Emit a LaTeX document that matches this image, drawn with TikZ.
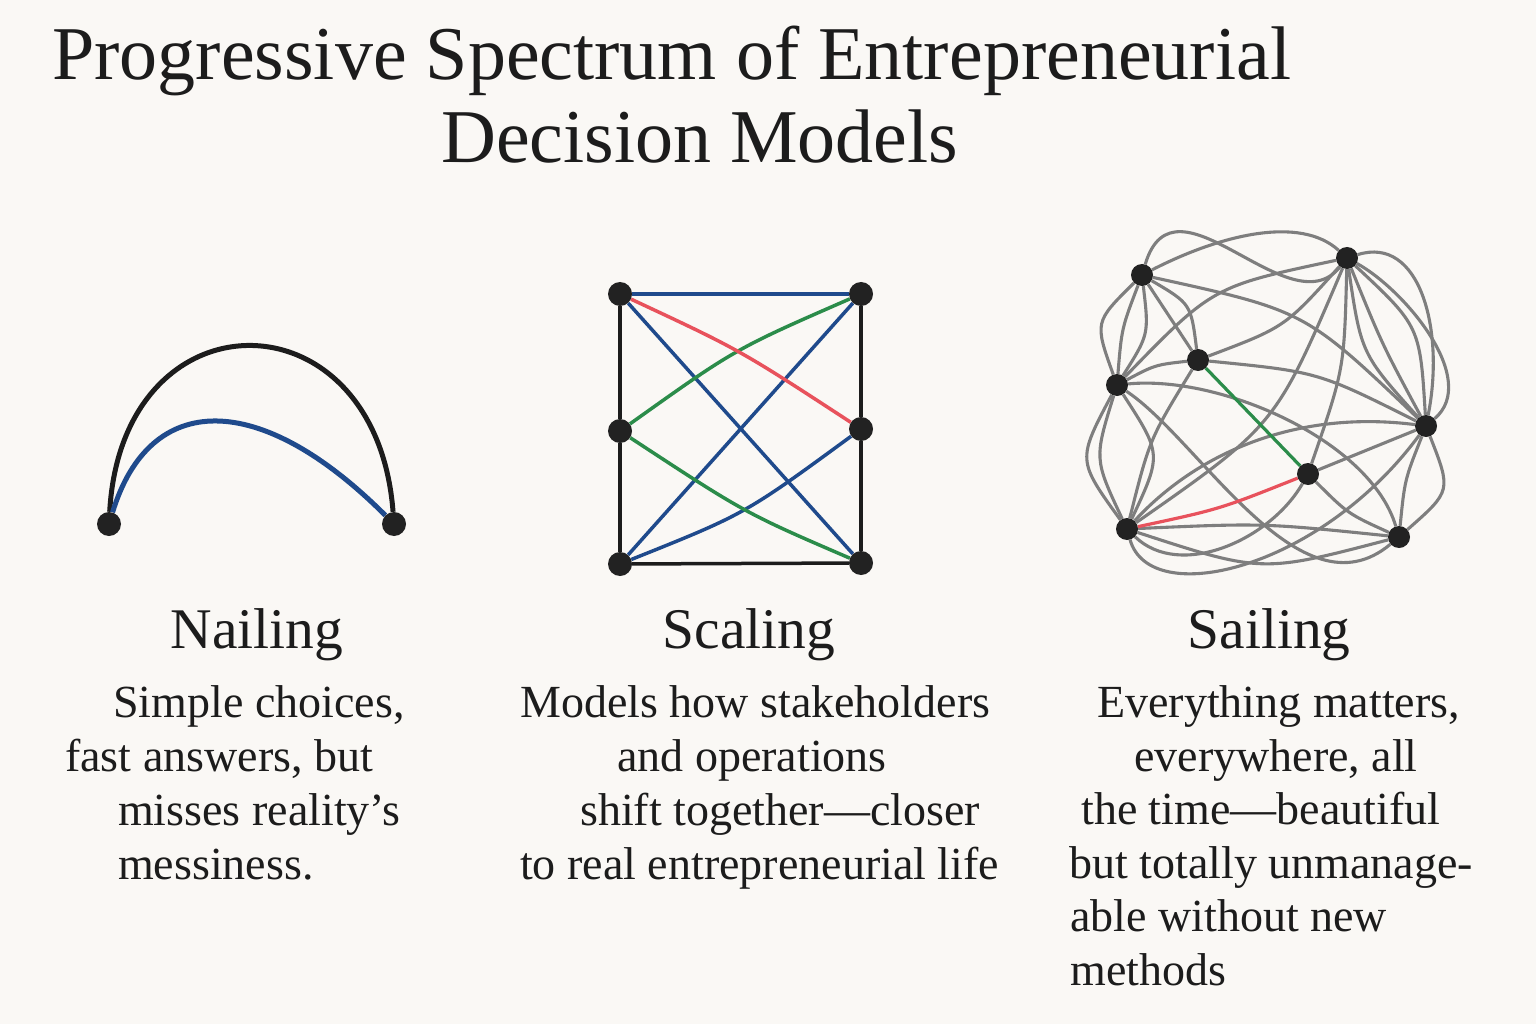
\documentclass[tikz,border=0pt]{standalone}
\usepackage{fontspec}
\setmainfont{Liberation Serif}
\usetikzlibrary{calc}
\definecolor{bgc}{HTML}{FAF8F5}
\definecolor{ink}{HTML}{1C1C1C}
\definecolor{dotc}{HTML}{222222}
\definecolor{navy}{HTML}{1F4A8C}
\definecolor{redl}{HTML}{E8525C}
\definecolor{grn}{HTML}{2B8C4A}
\definecolor{edgegray}{HTML}{7E7E7E}
\pgfdeclarelayer{back}
\pgfdeclarelayer{edges}
\pgfsetlayers{back,edges,main}
\newcommand\sedge[4][ged]{\draw[#1] (#2) .. controls ($(#2)!.5!(#3)!#4!90:(#3)$) .. (#3);}
\begin{document}
\begin{tikzpicture}[x=1pt,y=-1pt,
  dot/.style={circle,fill=dotc,draw=none,minimum size=24pt,inner sep=0pt},
  sdot/.style={circle,fill=dotc,draw=none,minimum size=22pt,inner sep=0pt},
  txt/.style={anchor=base west,inner sep=0pt,font=\fontsize{46}{53}\selectfont,text=ink},
  head/.style={anchor=base,inner sep=0pt,font=\fontsize{57.5}{60}\selectfont,text=ink},
  ttl/.style={anchor=base west,inner sep=0pt,font=\fontsize{76}{84}\selectfont,text=ink},
  sq/.style={line width=3.5pt},
  arc/.style={line width=5pt},
  ged/.style={draw=edgegray,line width=3.1pt}]
\begin{pgfonlayer}{back}
\fill[bgc] (0,0) rectangle (1536,1024);
\end{pgfonlayer}
\useasboundingbox (0,0) rectangle (1536,1024);

% title
\node[ttl] (t1) at (52,80) {Progressive Spectrum of Entrepreneurial};
\node[ttl] (t2) at (441,163) {Decision Models};

% ---------- Nailing ----------
\node[dot] (nL) at (109,524) {};
\node[dot] (nR) at (394,524) {};
\begin{pgfonlayer}{edges}
\draw[arc,ink] (nL) .. controls (122,290) and (376,290) .. (nR);
\draw[arc,navy] (nL) .. controls (150,390) and (260,390) .. (nR);
\end{pgfonlayer}

% ---------- Scaling ----------
\node[dot] (TL) at (620,294) {};
\node[dot] (TR) at (861,294) {};
\node[dot] (ML) at (620,431) {};
\node[dot] (MR) at (861,429) {};
\node[dot] (BL) at (620,564) {};
\node[dot] (BR) at (861,563) {};
\begin{pgfonlayer}{edges}
\draw[sq,ink] (TL) -- (ML);
\draw[sq,ink] (ML) -- (BL);
\draw[sq,ink] (BL) -- (BR);
\draw[sq,ink] (BR) -- (MR);
\draw[sq,ink] (MR) -- (TR);
\draw[sq,navy] (TL) -- (TR);
\draw[sq,navy] (TL) -- (BR);
\draw[sq,navy] (BL) -- (TR);
\draw[sq,navy] (BL) .. controls (745,514) .. (MR);
\draw[sq,grn] (ML) .. controls (745,513) .. (BR);
\draw[sq,grn] (ML) .. controls (735,349) .. (TR);
\draw[sq,redl] (TL) .. controls (740,350) .. (MR);
\end{pgfonlayer}

% ---------- Sailing ----------
\node[sdot] (sA) at (1142,275) {};
\node[sdot] (sB) at (1347,258) {};
\node[sdot] (sC) at (1198,360) {};
\node[sdot] (sD) at (1117,385) {};
\node[sdot] (sE) at (1426,426) {};
\node[sdot] (sF) at (1308,474) {};
\node[sdot] (sG) at (1127,529) {};
\node[sdot] (sH) at (1399,537) {};
\begin{pgfonlayer}{edges}
\draw[ged] (sA) .. controls (1175,165) and (1290,330) .. (sB);
\draw[ged] (sA) .. controls (1220,235) and (1300,215) .. (sB);
\draw[ged] (sA) -- (sC);
\sedge{sA}{sC}{25pt}
\sedge{sA}{sD}{-36pt}
\sedge{sA}{sD}{-8pt}
\sedge{sA}{sD}{20pt}
\sedge{sA}{sE}{45pt}
\sedge{sB}{sD}{-40pt}
\sedge{sC}{sB}{-22pt}
\sedge{sG}{sB}{-50pt}
\sedge{sB}{sF}{17pt}
\sedge{sB}{sE}{-28pt}
\sedge{sB}{sE}{-5pt}
\sedge{sB}{sE}{37pt}
\draw[ged] (sB) .. controls (1420,235) and (1445,330) .. (sE);
\draw[ged] (sB) .. controls (1405,290) and (1480,380) .. (sE);
\sedge{sC}{sD}{-8pt}
\sedge{sC}{sE}{22pt}
\sedge{sC}{sG}{-14pt}
\sedge{sD}{sG}{-45pt}
\sedge{sD}{sG}{-28pt}
\sedge{sD}{sG}{40pt}
\draw[ged] (sD) .. controls (1220,375) and (1370,440) .. (sH);
\draw[ged] (sD) .. controls (1200,440) and (1300,620) .. (sH);
\sedge{sG}{sH}{10pt}
\sedge{sG}{sH}{-40pt}
\draw[ged] (sG) .. controls (1200,450) and (1300,410) .. (sE);
\draw[ged] (sG) .. controls (1150,610) and (1320,570) .. (sE);
\draw[ged] (sF) -- (sE);
\sedge{sF}{sH}{-10pt}
\draw[ged] (sF) .. controls (1270,540) and (1180,580) .. (sG);
\sedge{sE}{sH}{-8pt}
\sedge{sE}{sH}{40pt}
\draw[line width=3.2pt,grn] (sC) -- (sF);
\sedge[line width=3.2pt,redl]{sG}{sF}{-8pt}
\end{pgfonlayer}

% ---------- headings ----------
\node[head] (h1) at (257,648) {Nailing};
\node[head] (h2) at (749,648) {Scaling};
\node[head] (h3) at (1269,648) {Sailing};

% ---------- texts ----------
\node[txt] (n1) at (113,717) {Simple choices,};
\node[txt] (n2) at (65,771) {fast answers, but};
\node[txt] (n3) at (118,825) {misses reality’s};
\node[txt] (n4) at (118,879) {messiness.};

\node[txt] (m1) at (520,717) {Models how stakeholders};
\node[txt] (m2) at (617,771) {and operations};
\node[txt] (m3) at (580,825) {shift together—closer};
\node[txt] (m4) at (520,879) {to real entrepreneurial life};

\node[txt] (s1) at (1097,717) {Everything matters,};
\node[txt] (s2) at (1134,771) {everywhere, all};
\node[txt] (s3) at (1081,824) {the time—beautiful};
\node[txt] (s4) at (1069,878) {but totally unmanage-};
\node[txt] (s5) at (1070,931) {able without new};
\node[txt] (s6) at (1070,985) {methods};
\end{tikzpicture}
\end{document}
